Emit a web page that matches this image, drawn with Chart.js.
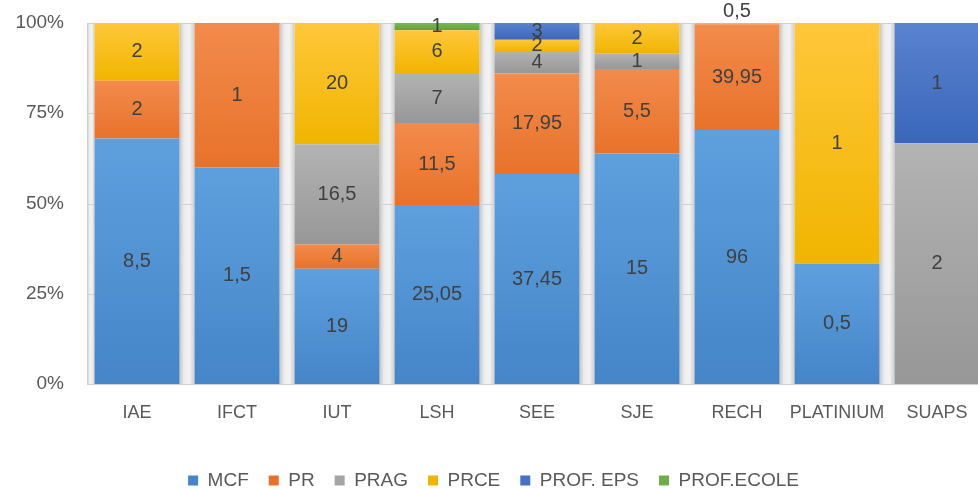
<!DOCTYPE html>
<html>
<head>
<meta charset="utf-8">
<script src="https://cdn.jsdelivr.net/npm/chart.js@4.4.1/dist/chart.umd.min.js"></script>
<style>
  html, body { margin: 0; padding: 0; background: #ffffff; overflow: hidden; }
  #wrap { position: absolute; left: 0; top: 0; width: 1012px; height: 489px; }
</style>
</head>
<body>
<div id="wrap"><canvas id="c" width="1012" height="489"></canvas></div>
<script>
// ---- data ----
const categories = ['IAE', 'IFCT', 'IUT', 'LSH', 'SEE', 'SJE', 'RECH', 'PLATINIUM', 'SUAPS'];
const seriesNames = ['MCF', 'PR', 'PRAG', 'PRCE', 'PROF. EPS', 'PROF.ECOLE'];
const mcf       = [8.5, 1.5, 19, 25.05, 37.45, 15, 96, 0.5, 0];
const pr        = [2, 1, 4, 11.5, 17.95, 5.5, 39.95, 0, 0];
const prag      = [0, 0, 16.5, 7, 4, 1, 0, 0, 2];
const prce      = [2, 0, 20, 6, 2, 2, 0.5, 1, 0];
const profEps   = [0, 0, 0, 0, 3, 0, 0, 0, 1];
const profEcole = [0, 0, 0, 1, 0, 0, 0, 0, 0];
const yTicks = [0, 25, 50, 75, 100];

// ---- styles ----
const seriesRaw = [mcf, pr, prag, prce, profEps, profEcole];
const baseColors = ['#5195d6', '#ee7d35', '#a5a5a5', '#ffc000', '#4472c4', '#70ad47'];
const topColors  = ['#5ea0de', '#f28b4c', '#b3b3b3', '#ffc73a', '#5a83cf', '#7bb656'];
const botColors  = ['#4585c8', '#e8722a', '#979797', '#f0b500', '#3a66bb', '#63a03c'];

const totals = categories.map((_, i) => seriesRaw.reduce((s, arr) => s + arr[i], 0));
const pct = seriesRaw.map(arr => arr.map((v, i) => totals[i] ? v / totals[i] * 100 : 0));
const cumBelow = seriesRaw.map((_, d) => categories.map((_, i) => {
  let s = 0; for (let k = 0; k < d; k++) s += pct[k][i]; return s;
}));

function barColor(d) {
  return (ctx) => {
    if (ctx.type !== 'data') return baseColors[d];
    const chart = ctx.chart;
    const ys = chart.scales && chart.scales.y;
    if (!ys || !chart.chartArea) return baseColors[d];
    const i = ctx.dataIndex;
    const yBot = ys.getPixelForValue(cumBelow[d][i]);
    const yTop = ys.getPixelForValue(cumBelow[d][i] + pct[d][i]);
    if (!isFinite(yBot) || !isFinite(yTop) || Math.abs(yBot - yTop) < 1) return baseColors[d];
    const g = chart.ctx.createLinearGradient(0, yTop, 0, yBot);
    g.addColorStop(0, topColors[d]);
    g.addColorStop(1, botColors[d]);
    return g;
  };
}

const fmt = v => String(v).replace('.', ',');

const gapPlugin = {
  id: 'gaps',
  beforeDatasetsDraw(chart) {
    const meta = chart.getDatasetMeta(0);
    const area = chart.chartArea;
    const c = chart.ctx;
    const els = meta.data;
    const edges = [];
    els.forEach(el => edges.push([el.x - el.width / 2, el.x + el.width / 2]));
    const gaps = [];
    gaps.push([area.left, edges[0][0]]);
    for (let i = 1; i < edges.length; i++) gaps.push([edges[i - 1][1], edges[i][0]]);
    gaps.push([edges[edges.length - 1][1], area.right]);
    c.save();
    gaps.forEach(([a, b]) => {
      if (b - a <= 0.5) return;
      const g = c.createLinearGradient(a, 0, b, 0);
      g.addColorStop(0, '#c4c4c4');
      g.addColorStop(0.3, '#ececec');
      g.addColorStop(0.65, '#f3f3f3');
      g.addColorStop(1, '#cfcfcf');
      c.fillStyle = g;
      c.fillRect(a, area.top, b - a, area.bottom - area.top);
    });
    const ys = chart.scales.y;
    c.strokeStyle = '#d0d0d0';
    c.lineWidth = 1;
    yTicks.forEach(t => {
      const y = Math.round(ys.getPixelForValue(t)) + 0.5;
      c.beginPath(); c.moveTo(area.left, y); c.lineTo(area.right, y); c.stroke();
    });
    c.restore();
  }
};

const labelPlugin = {
  id: 'segLabels',
  afterDatasetsDraw(chart) {
    const c = chart.ctx;
    c.save();
    c.font = '20px "Liberation Sans", Arial, sans-serif';
    c.fillStyle = '#404040';
    c.textAlign = 'center';
    c.textBaseline = 'middle';
    chart.data.datasets.forEach((ds, d) => {
      const meta = chart.getDatasetMeta(d);
      meta.data.forEach((el, i) => {
        const raw = seriesRaw[d][i];
        if (!raw) return;
        const top = Math.min(el.y, el.base), bot = Math.max(el.y, el.base);
        let y = (top + bot) / 2;
        if (bot - top < 4) y = top - 12;
        c.fillText(fmt(raw), el.x, y);
      });
    });
    c.restore();
  }
};

new Chart(document.getElementById('c'), {
  type: 'bar',
  data: {
    labels: categories,
    datasets: seriesNames.map((name, d) => ({
      label: name,
      data: pct[d],
      backgroundColor: barColor(d),
      borderWidth: 0,
      barPercentage: 0.85,
      categoryPercentage: 1.0
    }))
  },
  options: {
    responsive: false,
    animation: false,
    events: [],
    layout: { padding: { top: 23, right: 25, left: 0, bottom: -11 } },
    plugins: {
      legend: {
        position: 'bottom',
        labels: {
          boxWidth: 10,
          boxHeight: 10,
          padding: 20,
          color: '#595959',
          font: { family: '"Liberation Sans", Arial, sans-serif', size: 19 }
        }
      },
      tooltip: { enabled: false }
    },
    scales: {
      x: {
        stacked: true,
        afterFit(scale) { scale.height = 67; },
        grid: { display: false, drawTicks: false },
        border: { display: true, color: '#d0d0d0' },
        ticks: {
          color: '#595959',
          padding: 18,
          maxRotation: 0,
          minRotation: 0,
          autoSkip: false,
          font: { family: '"Liberation Sans", Arial, sans-serif', size: 18 }
        }
      },
      y: {
        stacked: true,
        min: 0,
        max: 100,
        afterFit(scale) { scale.width = 87; scale.paddingTop = 0; scale.paddingBottom = 0; },
        afterBuildTicks(scale) { scale.ticks = yTicks.map(v => ({ value: v })); },
        grid: { display: false, drawTicks: false },
        border: { display: false },
        ticks: {
          color: '#595959',
          padding: 23,
          font: { family: '"Liberation Sans", Arial, sans-serif', size: 19 },
          callback: v => v + '%'
        }
      }
    }
  },
  plugins: [gapPlugin, labelPlugin]
});
</script>
</body>
</html>
